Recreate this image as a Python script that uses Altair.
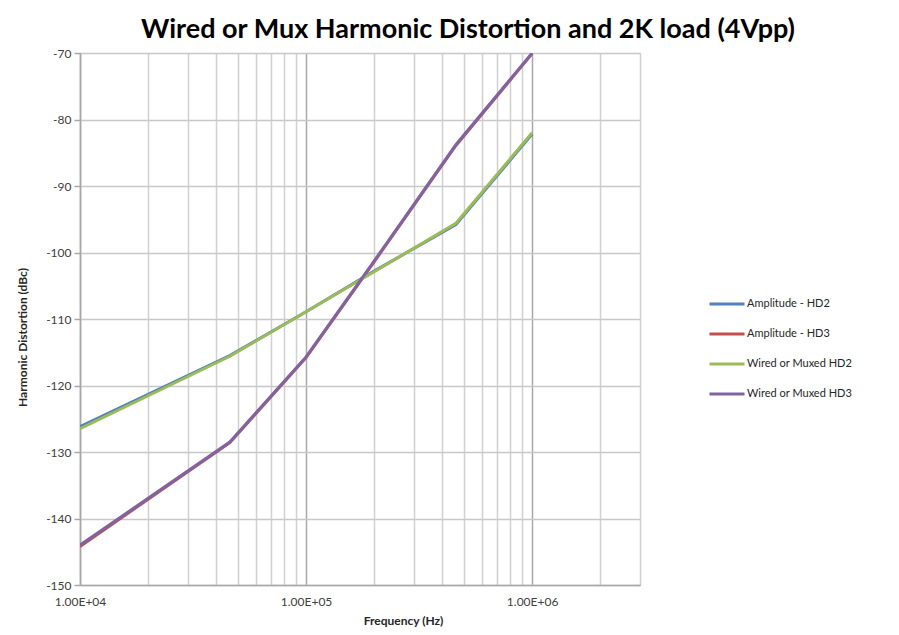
import altair as alt
import pandas as pd

# Frequencies (Hz) of the measured points
freq = [1e4, 4.6e4, 1e5, 2e5, 4.6e5, 1e6]

amp_hd2 = [-126.2, -115.5, -108.9, -102.8, -95.8, -82.2]
amp_hd3 = [-144.2, -128.6, -115.8, -101.4, -83.9, -70.1]
wired_hd2 = [-126.5, -115.6, -108.9, -102.9, -95.6, -82.0]
wired_hd3 = [-144.0, -128.5, -115.7, -101.3, -83.8, -70.0]

series_names = ["Amplitude - HD2", "Amplitude - HD3", "Wired or Muxed HD2", "Wired or Muxed HD3"]
series_colors = ["#4F81BD", "#C0504D", "#9BBB59", "#8064A2"]

x_grid = [1e4, 2e4, 3e4, 4e4, 5e4, 6e4, 7e4, 8e4, 9e4,
          1e5, 2e5, 3e5, 4e5, 5e5, 6e5, 7e5, 8e5, 9e5,
          1e6, 2e6, 3e6]
y_ticks = [-150, -140, -130, -120, -110, -100, -90, -80, -70]

rows = []
for name, vals in zip(series_names, [amp_hd2, amp_hd3, wired_hd2, wired_hd3]):
    for f, v in zip(freq, vals):
        rows.append({"series": name, "freq": f, "value": v})
df = pd.DataFrame(rows)

FONT = "Lato"
DECADE = "abs(log(datum.value)/LN10 - round(log(datum.value)/LN10)) < 1e-6"

lines = alt.Chart(df).mark_line(strokeWidth=3, clip=True).encode(
    x=alt.X("freq:Q",
            scale=alt.Scale(type="log", domain=[1e4, 3e6], nice=False),
            axis=alt.Axis(
                values=x_grid,
                title="Frequency (Hz)",
                labelExpr=DECADE + " ? '1.00E+0' + round(log(datum.value)/LN10) : ''",
                ticks=False,
                labelPadding=11,
                labelFont=FONT, labelFontSize=12, labelColor="#404040",
                labelOverlap=False, labelFlush=False,
                titleFont=FONT, titleFontSize=12, titleFontWeight="bold", titleColor="#262626",
                titleX=323, titleY=39, titleBaseline="alphabetic",
                grid=True,
                gridColor={"condition": {"test": DECADE, "value": "#a8a8a8"}, "value": "#d0d0d0"},
                gridWidth=1.5,
                domainColor="#a8a8a8", domainWidth=1.5,
            )),
    y=alt.Y("value:Q",
            scale=alt.Scale(domain=[-150, -70], nice=False, zero=False),
            axis=alt.Axis(
                values=y_ticks,
                title="Harmonic Distortion (dBc)",
                labelExpr="'' + datum.value",
                tickSize=6, tickColor="#a8a8a8", tickWidth=1.5,
                labelPadding=3,
                labelFont=FONT, labelFontSize=12, labelColor="#404040",
                titleFont=FONT, titleFontSize=12, titleFontWeight="bold", titleColor="#262626",
                titleAngle=270, titleX=-58, titleY=284, titleAlign="center", titleBaseline="middle",
                grid=True, gridColor="#c8c8c8", gridWidth=1.5,
                domainColor="#a8a8a8", domainWidth=1.5,
            )),
    color=alt.Color("series:N",
                    scale=alt.Scale(domain=series_names, range=series_colors),
                    legend=alt.Legend(
                        title=None, orient="none", legendX=628, legendY=232,
                        symbolType="stroke", symbolSize=1225, symbolStrokeWidth=3,
                        labelFont=FONT, labelFontSize=11, labelColor="#262626",
                        labelOffset=1, rowPadding=5,
                    )),
)

chart = lines.properties(
    width=560, height=532,
    title=alt.TitleParams(
        "Wired or Mux Harmonic Distortion and 2K load (4Vpp)",
        font=FONT, fontSize=27, fontWeight="bold", color="#000000",
        anchor="middle", frame="group", dx=108, dy=34, offset=16, baseline="alphabetic",
    ),
    autosize=alt.AutoSizeParams(type="none"),
    padding={"left": 72, "top": 45, "right": 240, "bottom": 42},
).configure_view(stroke="#c8c8c8", strokeWidth=1.5).configure(background="white")

chart.save("out.html", embed_options={"renderer": "svg", "actions": False})
